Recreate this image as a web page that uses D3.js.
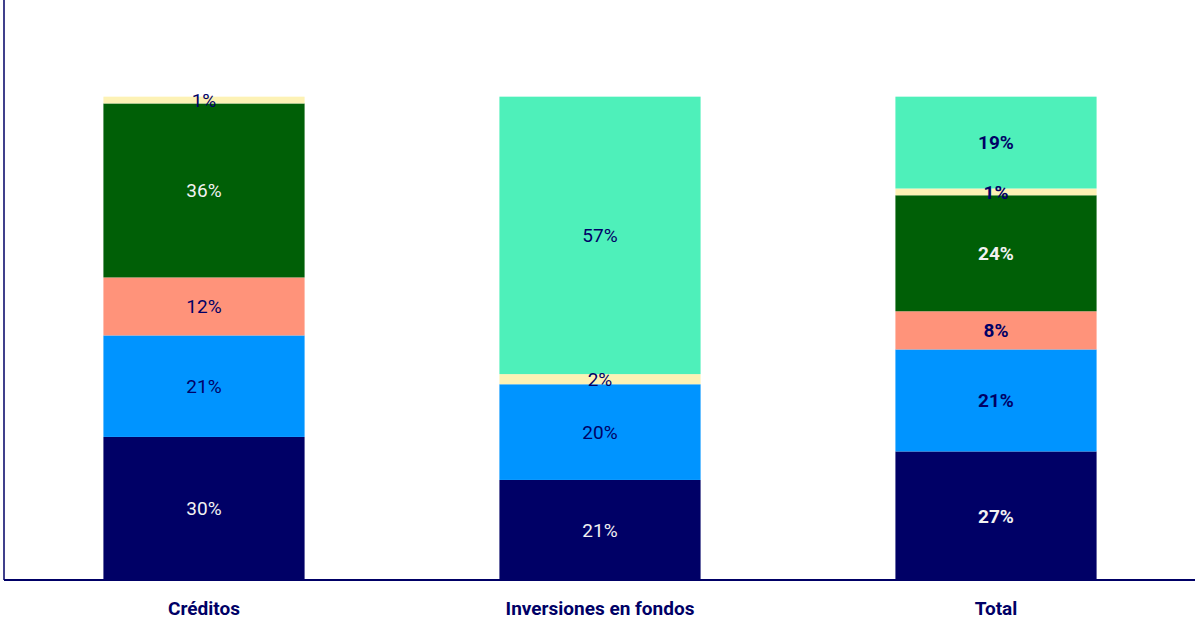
<!DOCTYPE html>
<html>
<head>
<meta charset="utf-8">
<script src="https://cdn.jsdelivr.net/npm/d3@7"></script>
<style>
  body { margin: 0; background: #fff; }
  #chart { width: 1195px; height: 621px; }
  text { font-family: Roboto, "Noto Sans", sans-serif; }
</style>
</head>
<body>
<div id="chart"></div>
<script>
// categories and series (percent of each column)
let categories = ['Créditos', 'Inversiones en fondos', 'Total'];
let seriesKeys = ['s1', 's2', 's3', 's4', 's5', 's6'];
let s1 = [29.6, 20.7, 26.6];
let s2 = [21.0, 19.8, 21.1];
let s3 = [12.0, 0, 7.9];
let s4 = [36.0, 0, 24.0];
let s5 = [1.4, 2.1, 1.4];
let s6 = [0, 57.4, 19.0];
let colors = ['#000066', '#0094FF', '#FF937A', '#005F06', '#FDF2B5', '#4EF0BA'];
let labelColors = ['#F2F2F2', '#000066', '#000066', '#F2F2F2', '#000066', '#000066'];
let boldColumn = ['Total'];

let data = categories.map(function (c, i) {
    return {cat: c, s1: s1[i], s2: s2[i], s3: s3[i], s4: s4[i], s5: s5[i], s6: s6[i]};
});

let margin = {top: 0, right: 3, bottom: 41, left: 4};
let width = 1195 - margin.left - margin.right;
let height = 621 - margin.top - margin.bottom;

let svg = d3.select('#chart')
    .append('svg')
    .attr('width', width + margin.left + margin.right)
    .attr('height', height + margin.top + margin.bottom)
    .append('g')
    .attr('transform', 'translate(' + margin.left + ', ' + margin.top + ')');

let x = d3.scaleBand()
    .domain(categories)
    .range([2, width + 2])
    .paddingInner(0.492)
    .paddingOuter(0.246);

let y = d3.scaleLinear()
    .domain([0, 120])
    .range([height, 0]);

let stacked = d3.stack().keys(seriesKeys)(data);

let layers = svg.append('g')
    .selectAll('g')
    .data(stacked)
    .enter().append('g')
    .attr('fill', (d, i) => colors[i]);

layers.selectAll('rect')
    .data(d => d)
    .enter().append('rect')
    .attr('x', d => x(d.data.cat))
    .attr('y', d => y(d[1]))
    .attr('width', x.bandwidth())
    .attr('height', d => y(d[0]) - y(d[1]));

// value labels
stacked.forEach(function (layer, i) {
    svg.append('g')
        .selectAll('text')
        .data(layer.filter(d => d[1] - d[0] > 0))
        .enter().append('text')
        .attr('x', d => x(d.data.cat) + x.bandwidth() / 2)
        .attr('y', d => y((d[0] + d[1]) / 2))
        .attr('dy', '0.36em')
        .attr('text-anchor', 'middle')
        .style('font-size', '19px')
        .style('font-weight', d => boldColumn.includes(d.data.cat) ? 'bold' : 'normal')
        .style('fill', labelColors[i])
        .text(d => Math.round(d[1] - d[0]) + '%');
});

// axes
svg.append('line')
    .attr('x1', 0).attr('y1', 0)
    .attr('x2', 0).attr('y2', height)
    .style('stroke', '#000066')
    .style('stroke-width', 1.5);

let xAxis = d3.axisBottom(x).tickSize(0).tickPadding(22);
let gx = svg.append('g')
    .attr('transform', `translate(0, ${height})`)
    .call(xAxis);
gx.select('.domain')
    .attr('d', 'M0,0H' + (width + margin.right))
    .style('stroke', '#000066')
    .style('stroke-width', 2);
gx.selectAll('text')
    .style('font-size', '19px')
    .style('font-weight', 'bold')
    .style('fill', '#000066')
    .style('font-family', 'Roboto, "Noto Sans", sans-serif');
</script>
</body>
</html>
